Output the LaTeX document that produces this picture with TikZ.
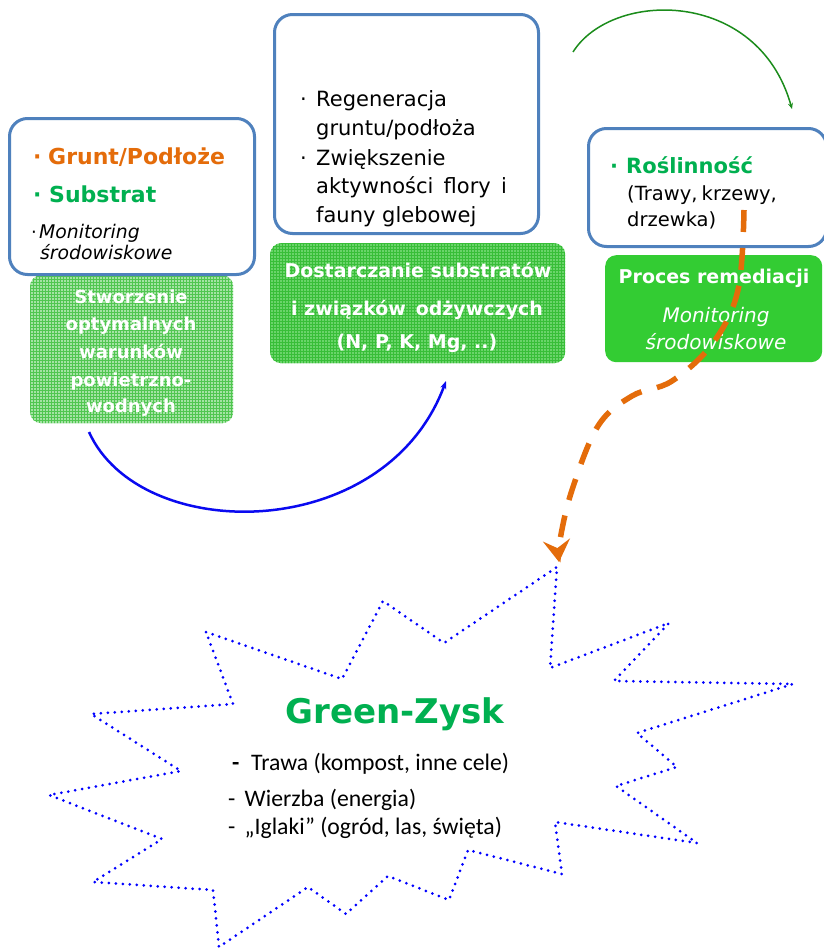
\documentclass[tikz,border=0pt]{standalone}
\usepackage{fontspec}
\setmainfont{DejaVu Sans}
\newfontfamily\narrowfont{Carlito}
\usetikzlibrary{arrows.meta,patterns}
\definecolor{borderblue}{HTML}{4F81BD}
\definecolor{txtorange}{HTML}{E46C0A}
\definecolor{txtgreen}{HTML}{00B050}
\definecolor{boxgreen}{HTML}{33CC33}
\definecolor{hatchAfill}{HTML}{A4E3A4}
\definecolor{hatchAline}{HTML}{50C650}
\definecolor{hatchBfill}{HTML}{6AD46A}
\definecolor{hatchBline}{HTML}{38BE38}
\definecolor{arcgreen}{HTML}{1B8C1B}
\definecolor{starblue}{HTML}{0000FF}
\definecolor{arcblue}{HTML}{0A0AF0}
\newcommand\fsz[1]{\fontsize{#1}{#1}\selectfont}
\begin{document}
\begin{tikzpicture}[x=1pt,y=-1pt,
  wbox/.style={draw=borderblue, line width=3pt, fill=white, rounded corners=18pt, anchor=north west, inner sep=0pt},
  gbox/.style={rounded corners=11pt, anchor=north west, inner sep=0pt},
  hatchA/.style={gbox, preaction={fill=hatchAfill}, pattern=grid, pattern color=hatchAline},
  hatchB/.style={gbox, preaction={fill=hatchBfill}, pattern=grid, pattern color=hatchBline},
  solidg/.style={gbox, fill=boxgreen},
  lt/.style={anchor=base west, inner sep=0pt},
  ct/.style={anchor=base, inner sep=0pt},
  boxtxt/.style={ct, text=white, font=\fsz{19}\bfseries},
  leftgtxt/.style={ct, text=white, font=\fsz{18}\bfseries},
  bodytxt/.style={lt, font=\fsz{21}},
  startxt/.style={lt, font=\narrowfont\fsz{23.7}},
  stardots/.style={draw=starblue, line width=3pt, dash pattern=on 0pt off 7pt, line cap=round, line join=round},
  orangedash/.style={draw=txtorange, line width=5.5pt, dash pattern=on 22pt off 16pt},
  ]
\useasboundingbox (0,0) rectangle (824,948);
\clip (0,0) rectangle (824,948);
\fill[white] (0,0) rectangle (824,948);

% green boxes
\node[hatchA, minimum width=203pt, minimum height=148pt] (g1) at (30,275) {};
\node[hatchB, minimum width=295pt, minimum height=120pt] (g2) at (270,243) {};
\node[solidg, minimum width=217pt, minimum height=107pt] (g3) at (605,255) {};

% white boxes
\node[wbox, minimum width=245pt, minimum height=156pt] (b1) at (8,117) {};
\node[wbox, minimum width=264pt, minimum height=219pt] (b2) at (273,13) {};
\node[wbox, minimum width=238pt, minimum height=118pt] (b3) at (587,127) {};

% left white box text
\node[lt, text=txtorange, font=\fsz{22}\bfseries] (t1a) at (33,164) {·};
\node[lt, text=txtorange, font=\fsz{22}\bfseries] (t1) at (48,164) {Grunt/Podłoże};
\node[lt, text=txtgreen, font=\fsz{22}\bfseries] (t2a) at (33,202) {·};
\node[lt, text=txtgreen, font=\fsz{22}\bfseries] (t2) at (49,202) {Substrat};
\node[lt, font=\fsz{18}] (t3a) at (31,238) {·};
\node[lt, font=\fsz{18.8}\itshape] (t3) at (39,238) {Monitoring};
\node[lt, font=\fsz{18.8}\itshape] (t4) at (40,259) {środowiskowe};

% left green box text
\node[leftgtxt] (l1) at (131,303) {Stworzenie};
\node[leftgtxt] (l2) at (131,330) {optymalnych};
\node[leftgtxt] (l3) at (131,358) {warunków};
\node[leftgtxt] (l4) at (131,386) {powietrzno-};
\node[leftgtxt] (l5) at (131,412) {wodnych};

% middle white box text
\node[bodytxt] (m0a) at (300,106) {·};
\node[bodytxt] (m1) at (316,106) {Regeneracja};
\node[bodytxt] (m2) at (316,135) {gruntu/podłoża};
\node[bodytxt] (m0b) at (300,165) {·};
\node[bodytxt] (m3) at (316,165) {Zwiększenie};
\node[bodytxt] (m4) at (316,193) {aktywności\, flory\, i};
\node[bodytxt] (m5) at (316,222) {fauny glebowej};

% middle green box text
\node[boxtxt] (d1) at (418,277) {Dostarczanie substratów};
\node[boxtxt] (d2) at (417,315) {i związków\, odżywczych};
\node[boxtxt] (d3) at (417,348) {(N, P, K, Mg, ..)};

% right white box text
\node[lt, text=txtgreen, font=\fsz{21}\bfseries] (r0) at (610,173) {·};
\node[lt, text=txtgreen, font=\fsz{21}\bfseries] (r1) at (626,173) {Roślinność};
\node[lt, font=\fsz{19.5}] (r2) at (627,200) {(Trawy,\kern-2pt\ krzewy,};
\node[lt, font=\fsz{19.5}] (r3) at (627,226) {drzewka)};

% right green box text
\node[boxtxt] (p1) at (714,283) {Proces remediacji};
\node[ct, text=white, font=\fsz{20}\itshape] (p2) at (716,322) {Monitoring};
\node[ct, text=white, font=\fsz{20}\itshape] (p3) at (716,349) {środowiskowe};

% star
\draw[stardots] (206,632) -- (342,679) -- (383,601) -- (444,643) -- (557,567)
  -- (550,668) -- (669,623) -- (614,681) -- (793,684) -- (637,733)
  -- (677,767) -- (616,786) -- (697,843) -- (555,822) -- (562,874)
  -- (468,850) -- (449,900) -- (388,876) -- (346,914) -- (308,887)
  -- (219,947) -- (213,890) -- (93,882) -- (162,839) -- (49,795)
  -- (181,771) -- (91,714) -- (233,704) -- cycle;
\coordinate (startip) at (559,562);

\node[ct, text=txtgreen, font=\fsz{34}\bfseries] (gz) at (395,723) {Green-Zysk};
\node[lt, font=\narrowfont\fsz{23.7}\bfseries] (s0) at (232,770) {-};
\node[startxt] (s1) at (251,770) {Trawa (kompost, inne cele)};
\node[startxt] (s2) at (228,806) {-\, Wierzba (energia)};
\node[startxt] (s3) at (228,834) {-\, „Iglaki” (ogród, las, święta)};

% connectors
\coordinate (ga1) at (573,52);
\coordinate (ga2) at (792,109);
\draw[arcgreen, line width=1.5pt, -{Stealth[length=6pt,width=5pt]}] (ga1) .. controls (612,-10) and (758,-12) .. (ga2);

\coordinate (ba1) at (89,432);
\coordinate (ba2) at (446,381);
\draw[arcblue, line width=2.5pt, -{Stealth[length=8pt,width=6pt]}] (ba1) .. controls (140,545) and (385,545) .. (ba2);

\coordinate (os) at (744,210);
\draw[orangedash, -{Stealth[length=22pt,width=27pt,inset=8pt]}] plot[smooth, tension=0.6] coordinates {(744,210) (738,290) (713,343) (672,381) (632,396) (598,426) (572,490) (560,540) (startip)};
\end{tikzpicture}
\end{document}
